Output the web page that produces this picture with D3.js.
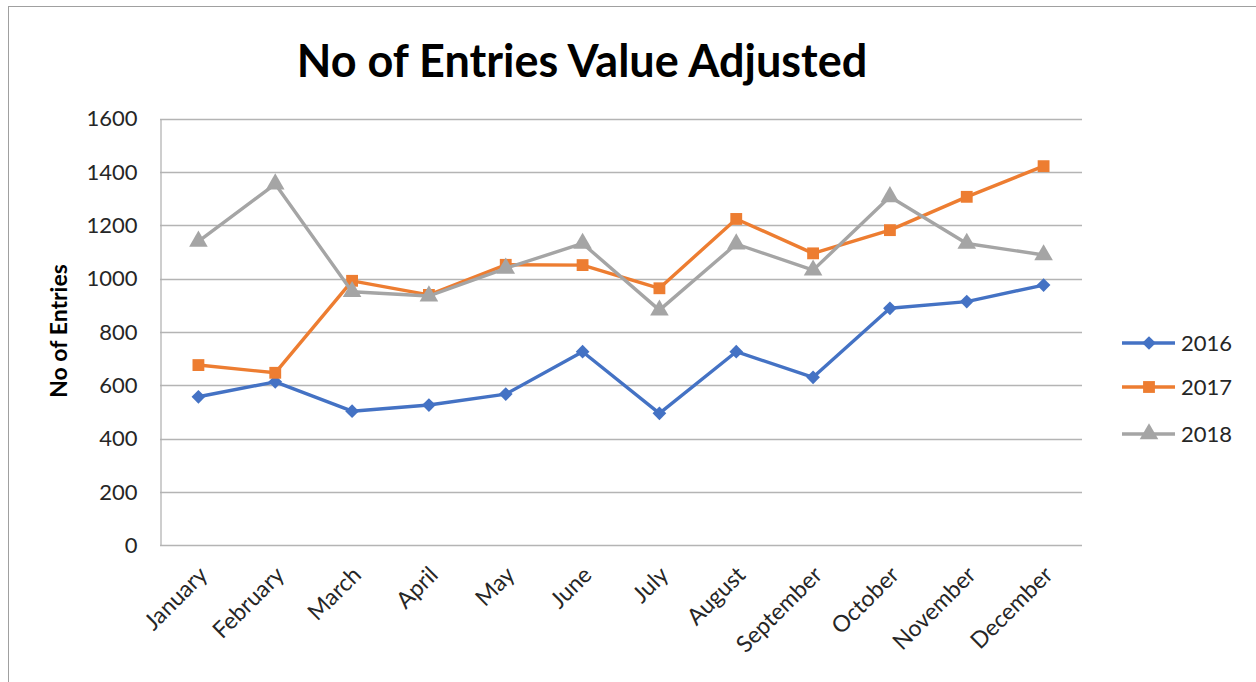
<!DOCTYPE html>
<html>
<head>
<meta charset="utf-8">
<script src="https://cdn.jsdelivr.net/npm/d3@7"></script>
<style>
  body { margin: 0; background: #fff; }
  text { font-family: Lato, "Open Sans", sans-serif; fill: #262626; }
</style>
</head>
<body>
<div id="chart"></div>
<script>
// data
var months = ["January", "February", "March", "April", "May", "June",
              "July", "August", "September", "October", "November", "December"];
var years = ["2016", "2017", "2018"];
var v2016 = [557, 613, 503, 526, 567, 726, 495, 726, 630, 889, 914, 976];
var v2017 = [676, 647, 992, 939, 1052, 1051, 964, 1224, 1095, 1182, 1307, 1422];
var v2018 = [1140, 1355, 951, 935, 1039, 1132, 882, 1130, 1032, 1307, 1132, 1089];
var yTicks = [0, 200, 400, 600, 800, 1000, 1200, 1400, 1600];
var colors = ["#4472c4", "#ed7d31", "#a5a5a5"];

var series = [v2016, v2017, v2018];

var W = 1256, H = 682;
var svg = d3.select("#chart").append("svg")
    .attr("width", W)
    .attr("height", H);

// outer frame
svg.append("rect")
    .attr("x", 8.5).attr("y", 6.5)
    .attr("width", 1300).attr("height", 700)
    .attr("fill", "none")
    .attr("stroke", "#a0a0a0");

var plotL = 160, plotR = 1082, plotT = 118.7, plotB = 545.3;

var x = d3.scalePoint().domain(months).range([plotL, plotR]).padding(0.5);
var y = d3.scaleLinear().domain([0, 1600]).range([plotB, plotT]);

// title
svg.append("text")
    .attr("x", 582).attr("y", 77)
    .attr("text-anchor", "middle")
    .style("font-size", "45px")
    .style("font-weight", "bold")
    .style("fill", "#000")
    .text("No of Entries Value Adjusted");

// gridlines
svg.append("g").selectAll("line")
    .data(yTicks)
    .enter().append("line")
    .attr("x1", plotL).attr("x2", plotR)
    .attr("y1", function (d) { return Math.round(y(d)) + 0.5; })
    .attr("y2", function (d) { return Math.round(y(d)) + 0.5; })
    .attr("stroke", "#b4b4b4")
    .attr("stroke-width", 1.3);

// y axis
var yAxis = svg.append("g")
    .attr("transform", "translate(" + (plotL + 0.5) + ",0)")
    .call(d3.axisLeft(y).tickValues(yTicks).tickFormat(d3.format("d"))
        .tickSize(0).tickPadding(23));
yAxis.select(".domain").attr("stroke", "#b4b4b4").attr("stroke-width", 1.3);
yAxis.selectAll("text")
    .style("font-size", "22px")
    .style("font-family", "Lato, sans-serif")
    .attr("fill", "#262626");

// x axis labels
var xAxis = svg.append("g")
    .attr("transform", "translate(0," + plotB + ")")
    .call(d3.axisBottom(x).tickSize(0).tickPadding(0));
xAxis.select(".domain").remove();
xAxis.selectAll("text")
    .style("font-size", "23px")
    .style("font-family", "Lato, sans-serif")
    .attr("fill", "#262626")
    .attr("text-anchor", "end")
    .attr("dy", 0)
    .attr("transform", "translate(10,31) rotate(-45)");

// y axis title
svg.append("text")
    .attr("transform", "translate(67,331) rotate(-90)")
    .attr("text-anchor", "middle")
    .style("font-size", "23px")
    .style("font-weight", "bold")
    .style("fill", "#000")
    .text("No of Entries");

var line = d3.line()
    .x(function (d, i) { return x(months[i]); })
    .y(function (d) { return y(d); });

var shapes = [
    d3.symbol().type(d3.symbolDiamond2).size(120),
    d3.symbol().type(d3.symbolSquare).size(140),
    d3.symbol().type(d3.symbolTriangle).size(150)
];

series.forEach(function (vals, k) {
    var g = svg.append("g");
    g.append("path")
        .datum(vals)
        .attr("d", line)
        .attr("fill", "none")
        .attr("stroke", colors[k])
        .attr("stroke-width", 3.4)
        .attr("stroke-linejoin", "round");
    g.selectAll("path.mark")
        .data(vals)
        .enter().append("path")
        .attr("class", "mark")
        .attr("d", shapes[k])
        .attr("transform", function (d, i) {
            return "translate(" + x(months[i]) + "," + y(d) + ")";
        })
        .attr("fill", colors[k]);
});

// legend
var legY = [343, 387, 434];
var leg = svg.append("g").selectAll("g")
    .data(years)
    .enter().append("g")
    .attr("transform", function (d, i) { return "translate(0," + legY[i] + ")"; });
leg.append("line")
    .attr("x1", 1122).attr("x2", 1175)
    .attr("stroke", function (d, i) { return colors[i]; })
    .attr("stroke-width", 3.4);
leg.append("path")
    .attr("d", function (d, i) { return shapes[i](); })
    .attr("transform", "translate(1149,0)")
    .attr("fill", function (d, i) { return colors[i]; });
leg.append("text")
    .attr("x", 1181).attr("y", 8)
    .style("font-size", "22px")
    .text(function (d) { return d; });
</script>
</body>
</html>
